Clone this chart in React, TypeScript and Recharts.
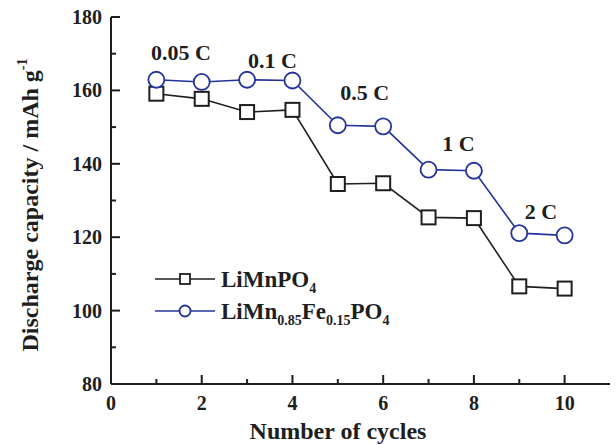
import { LineChart, Line, XAxis, YAxis, ReferenceDot, Customized } from "recharts";

const CYCLES = [1, 2, 3, 4, 5, 6, 7, 8, 9, 10];
const LIMNPO4 = [159.1, 157.7, 154.1, 154.7, 134.5, 134.7, 125.4, 125.2, 106.6, 106.0];
const LIMNFEPO4 = [162.9, 162.3, 162.9, 162.7, 150.5, 150.2, 138.4, 138.1, 121.1, 120.5];
const X_TICKS = [0, 1, 2, 3, 4, 5, 6, 7, 8, 9, 10];
const Y_TICKS = [80, 90, 100, 110, 120, 130, 140, 150, 160, 170, 180];
const RATES = [
  { label: "0.05 C", x: 1.54, y: 170.3 },
  { label: "0.1 C", x: 3.56, y: 168.1 },
  { label: "0.5 C", x: 5.59, y: 159.4 },
  { label: "1 C", x: 7.66, y: 145.7 },
  { label: "2 C", x: 9.48, y: 127.2 },
];

const FONT = '"Liberation Serif", "Times New Roman", serif';
const INK = "#1e1e1e";
const BLUE = "#24339b";

const data = CYCLES.map((c, i) => ({ cycle: c, mn: LIMNPO4[i], fe: LIMNFEPO4[i] }));

const tickLen = (major: boolean) => (major ? 9 : 5);

function BottomTick({ x, y, payload }: any) {
  const major = payload.value % 2 === 0;
  return (
    <g>
      <line x1={x} x2={x} y1={y} y2={y - tickLen(major)} stroke={INK} strokeWidth={2} />
      {major && (
        <text x={x} y={y + 26} textAnchor="middle" fontFamily={FONT} fontWeight="bold" fontSize={20} fill={INK}>
          {payload.value}
        </text>
      )}
    </g>
  );
}
function TopTick({ x, y, payload }: any) {
  const major = payload.value % 2 === 0;
  return <line x1={x} x2={x} y1={y} y2={y + tickLen(major)} stroke={INK} strokeWidth={2} />;
}
function LeftTick({ x, y, payload }: any) {
  const major = payload.value % 20 === 0;
  return (
    <g>
      <line x1={x} x2={x + tickLen(major)} y1={y} y2={y} stroke={INK} strokeWidth={2} />
      {major && (
        <text x={x - 9} y={y + 7} textAnchor="end" fontFamily={FONT} fontWeight="bold" fontSize={20} fill={INK}>
          {payload.value}
        </text>
      )}
    </g>
  );
}
function RightTick({ x, y, payload }: any) {
  const major = payload.value % 20 === 0;
  return <line x1={x} x2={x - tickLen(major)} y1={y} y2={y} stroke={INK} strokeWidth={2} />;
}

function SquareDot({ cx, cy }: any) {
  return <rect x={cx - 7} y={cy - 7} width={14} height={14} fill="#fff" stroke={INK} strokeWidth={2} />;
}
function CircleDot({ cx, cy }: any) {
  return <circle cx={cx} cy={cy} r={8} fill="#fff" stroke={BLUE} strokeWidth={1.8} />;
}

function Titles() {
  return (
    <g fontFamily={FONT} fontWeight="bold" fill={INK}>
      <text x={338} y={439} textAnchor="middle" fontSize={24}>Number of cycles</text>
      <text transform="translate(38,205) rotate(-90)" textAnchor="middle" fontSize={24}>
        Discharge capacity / mAh g<tspan fontSize={14} dy={-11}>-1</tspan>
      </text>
    </g>
  );
}

// legend drawn as svg so it does not shrink the plot area
function LegendBox() {
  return (
    <g fontFamily={FONT} fontWeight="bold" fill={INK}>
      <line x1={155} x2={215} y1={279} y2={279} stroke={INK} strokeWidth={1.6} />
      <rect x={180} y={274} width={10} height={10} fill="#fff" stroke={INK} strokeWidth={1.8} />
      <text x={221} y={287} fontSize={23}>
        LiMnPO<tspan fontSize={14} dy={6}>4</tspan>
      </text>
      <line x1={155} x2={215} y1={311} y2={311} stroke={BLUE} strokeWidth={1.6} />
      <circle cx={185} cy={311} r={5.5} fill="#fff" stroke={BLUE} strokeWidth={1.8} />
      <text x={221} y={319} fontSize={23}>
        LiMn<tspan fontSize={14} dy={6}>0.85</tspan>
        <tspan dy={-6}>Fe</tspan>
        <tspan fontSize={14} dy={6}>0.15</tspan>
        <tspan dy={-6}>PO</tspan>
        <tspan fontSize={14} dy={6}>4</tspan>
      </text>
    </g>
  );
}

export default function App() {
  return (
    <div style={{ position: "absolute", left: 0, top: 0, background: "#fff" }}>
      <LineChart width={616} height={445} data={data} margin={{ top: 17, right: 6, left: 51, bottom: 31 }}>
        <XAxis
          xAxisId={0}
          type="number"
          dataKey="cycle"
          domain={[0, 11]}
          ticks={X_TICKS}
          interval={0}
          height={30}
          tickSize={0}
          tickMargin={0}
          tickLine={false}
          tick={<BottomTick />}
          axisLine={{ stroke: INK, strokeWidth: 2 }}
        />
        <XAxis
          xAxisId="top"
          orientation="top"
          type="number"
          dataKey="cycle"
          domain={[0, 11]}
          ticks={X_TICKS}
          interval={0}
          height={0}
          tickSize={0}
          tickMargin={0}
          tickLine={false}
          tick={<TopTick />}
          axisLine={{ stroke: INK, strokeWidth: 2 }}
        />
        <YAxis
          yAxisId={0}
          type="number"
          domain={[80, 180]}
          ticks={Y_TICKS}
          interval={0}
          width={60}
          tickSize={0}
          tickMargin={0}
          tickLine={false}
          tick={<LeftTick />}
          axisLine={{ stroke: INK, strokeWidth: 2 }}
        />
        <YAxis
          yAxisId="right"
          orientation="right"
          type="number"
          domain={[80, 180]}
          ticks={Y_TICKS}
          interval={0}
          width={0}
          tickSize={0}
          tickMargin={0}
          tickLine={false}
          tick={<RightTick />}
          axisLine={{ stroke: INK, strokeWidth: 2 }}
        />
        <Line dataKey="mn" stroke={INK} strokeWidth={1.6} dot={<SquareDot />} isAnimationActive={false} />
        <Line dataKey="fe" stroke={BLUE} strokeWidth={1.6} dot={<CircleDot />} isAnimationActive={false} />
        {RATES.map((r) => (
          <ReferenceDot
            key={r.label}
            x={r.x}
            y={r.y}
            r={0}
            stroke="none"
            fill="none"
            label={{ value: r.label, position: "center", fill: INK, fontSize: 22, fontWeight: "bold", fontFamily: FONT }}
          />
        ))}
        <Customized component={LegendBox} />
        <Customized component={Titles} />
      </LineChart>
    </div>
  );
}
